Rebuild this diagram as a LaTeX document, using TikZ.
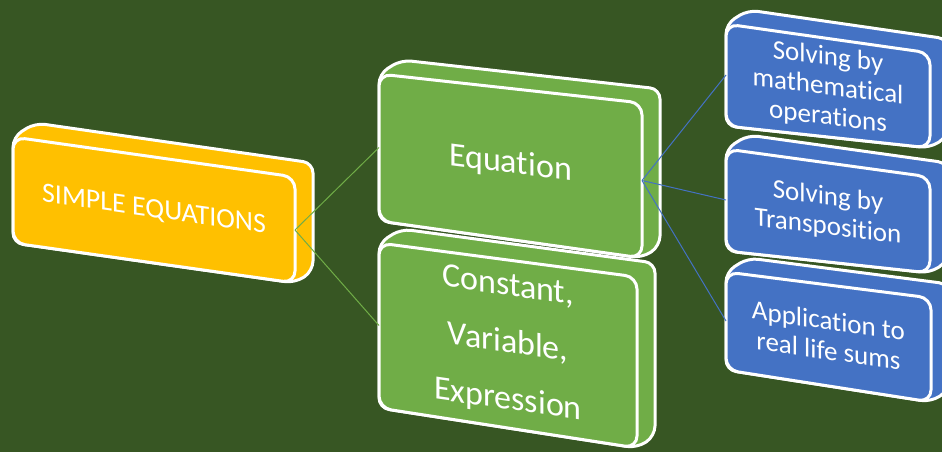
\documentclass[tikz,border=0pt]{standalone}
\usepackage{fontspec}
\setmainfont{Carlito}[Ligatures=NoCommon]
\definecolor{bgdark}{RGB}{55,86,35}
\definecolor{slabyellow}{RGB}{255,192,0}
\definecolor{slabgreen}{RGB}{112,173,71}
\definecolor{slabblue}{RGB}{68,114,196}
\tikzset{
  face/.style={draw=white, line width=3pt, rounded corners=12pt},
  side/.style={draw=white, line width=3pt, rounded corners=10pt},
  labeltext/.style={inner sep=0pt, align=center, text=white, transform shape},
  yellowtext/.style={font=\fontsize{28}{32}\selectfont},
  greentext/.style={font=\fontsize{34}{57}\selectfont},
  bluetext/.style={font=\fontsize{27}{30}\selectfont},
  greenlink/.style={draw=slabgreen, line width=1pt},
  bluelink/.style={draw=slabblue, line width=1pt},
}
% A slab seen in perspective: front face given by its left edge (x #2, from
% y #4 to #5) and right edge (x #3, from y #6 to #7), depth drawn behind it up
% and to the right, text #9 slanted along the face. #8 is the slab's kind
% (yellow, green or blue). #1 names the text node and the edge midpoints
% #1-w and #1-e.
\newcommand\slabbox[9]{%
  \path[side, fill=slab#8] (#2,#4) -- (#2+22,#4-14) -- (#3+18,#6-14)
    -- (#3+18,#7-12) -- (#3,#7) -- (#2,#5) -- cycle;
  \path[face, fill=slab#8] (#2,#4) -- (#3,#6) -- (#3,#7) -- (#2,#5) -- cycle;
  \coordinate (#1-w) at (#2,{(#4+#5)/2});
  \coordinate (#1-e) at (#3,{(#6+#7)/2});
  \pgfmathsetmacro\slabslope{((#6+#7)-(#4+#5))/(2*(#3-#2))}
  \begin{scope}[cm={1,-\slabslope,0,1,({(#2+#3)/2},{(#4+#5+#6+#7)/4})}]
    \node[labeltext, #8text] (#1) at (0,0) {#9};
  \end{scope}}
\begin{document}
\begin{tikzpicture}[x=1pt, y=-1pt]
  \fill[bgdark] (0,0) rectangle (942,452);
  \useasboundingbox (0,0) rectangle (942,452);

  \slabbox{root}{13}{295}{137}{243}{177}{283}{yellow}{SIMPLE EQUATIONS}
  \slabbox{eq}{379}{642}{74}{221}{103}{258}{green}{Equation}
  \slabbox{cve}{379}{637}{243}{408}{277}{448}{green}{Constant,\\Variable,\\Expression}
  \slabbox{ops}{726}{930}{24}{126}{53}{148}{blue}{Solving by\\mathematical\\operations}
  \slabbox{trans}{726}{930}{149}{251}{177}{273}{blue}{Solving by\\Transposition}
  \slabbox{app}{726}{931}{272}{370}{298}{402}{blue}{Application to\\real life sums}

  \draw[greenlink] (root-e) -- (eq-w);
  \draw[greenlink] (root-e) -- (cve-w);
  \draw[bluelink] (eq-e) -- (ops-w);
  \draw[bluelink] (eq-e) -- (trans-w);
  \draw[bluelink] (eq-e) -- (app-w);
\end{tikzpicture}
\end{document}
